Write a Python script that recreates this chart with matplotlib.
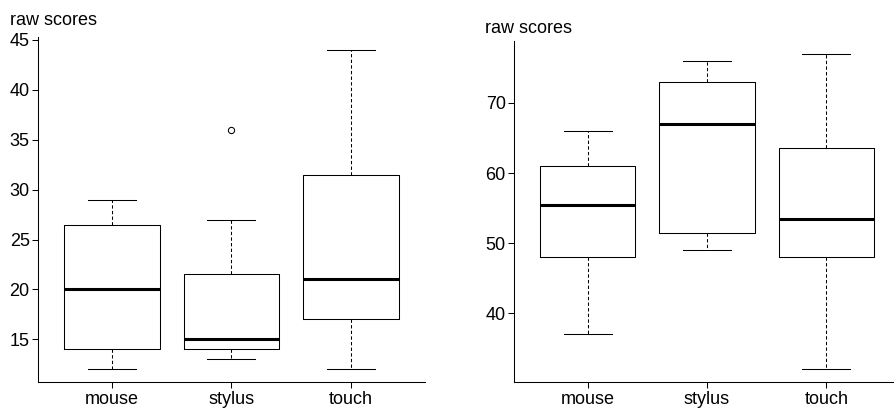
import matplotlib
matplotlib.use("Agg")
import matplotlib.pyplot as plt

plt.rcParams['font.family'] = ['Liberation Sans', 'DejaVu Sans']

categories = ["mouse", "stylus", "touch"]

# Left panel
left_whislo = [12, 13, 12]
left_q1 = [14, 14, 17]
left_med = [20, 15, 21]
left_q3 = [26.5, 21.5, 31.5]
left_whishi = [29, 27, 44]
left_fliers = [[], [36], []]
left_yticks = [15, 20, 25, 30, 35, 40, 45]

# Right panel
right_whislo = [37, 49, 32]
right_q1 = [48, 51.5, 48]
right_med = [55.5, 67, 53.5]
right_q3 = [61, 73, 63.5]
right_whishi = [66, 76, 77]
right_fliers = [[], [], []]
right_yticks = [40, 50, 60, 70]

ylabel_text = "raw scores"

W, H = 894, 408
fig = plt.figure(figsize=(W / 100, H / 100), dpi=100)

def px_axes(x0, x1, ytop, ybot):
    return [x0 / W, 1 - ybot / H, (x1 - x0) / W, (ybot - ytop) / H]

def make_stats(lo, q1, med, q3, hi, fl):
    stats = []
    for i in range(len(categories)):
        stats.append(dict(whislo=lo[i], q1=q1[i], med=med[i], q3=q3[i],
                          whishi=hi[i], fliers=fl[i], label=categories[i]))
    return stats

def draw(ax, stats, yticks, ylim):
    lw = 0.75
    ax.bxp(stats, positions=[1, 2, 3], widths=0.8, capwidths=0.4,
           showfliers=True,
           boxprops=dict(color='black', linewidth=lw),
           medianprops=dict(color='black', linewidth=2.2, solid_capstyle='butt'),
           whiskerprops=dict(color='black', linewidth=lw, linestyle=(0, (3.2, 2.2))),
           capprops=dict(color='black', linewidth=lw),
           flierprops=dict(marker='o', markerfacecolor='none',
                           markeredgecolor='black', markersize=4.5,
                           markeredgewidth=0.75))
    ax.set_xlim(0.38, 3.62)
    ax.set_ylim(*ylim)
    ax.set_yticks(yticks)
    ax.set_xticks([1, 2, 3])
    ax.set_xticklabels(categories)
    for s in ['top', 'right']:
        ax.spines[s].set_visible(False)
    for s in ['left', 'bottom']:
        ax.spines[s].set_linewidth(0.75)
        ax.spines[s].set_color('black')
    ax.tick_params(axis='both', direction='out', length=4.3, width=0.75,
                   labelsize=13, colors='black')
    ax.tick_params(axis='y', pad=1.5)
    ax.tick_params(axis='x', pad=2)
    ax.set_facecolor('none')

ax1 = fig.add_axes(px_axes(37.7, 425, 37.2, 382))
draw(ax1, make_stats(left_whislo, left_q1, left_med, left_q3, left_whishi, left_fliers),
     left_yticks, (10.72, 45.28))

ax2 = fig.add_axes(px_axes(513.7, 900.3, 41.2, 382))
draw(ax2, make_stats(right_whislo, right_q1, right_med, right_q3, right_whishi, right_fliers),
     right_yticks, (30.2, 78.8))

fig.text(10 / W, 1 - 25 / H, ylabel_text, fontsize=13, ha='left', va='baseline')
fig.text(485 / W, 1 - 33 / H, ylabel_text, fontsize=13, ha='left', va='baseline')

fig.savefig("out.png", dpi=100)
